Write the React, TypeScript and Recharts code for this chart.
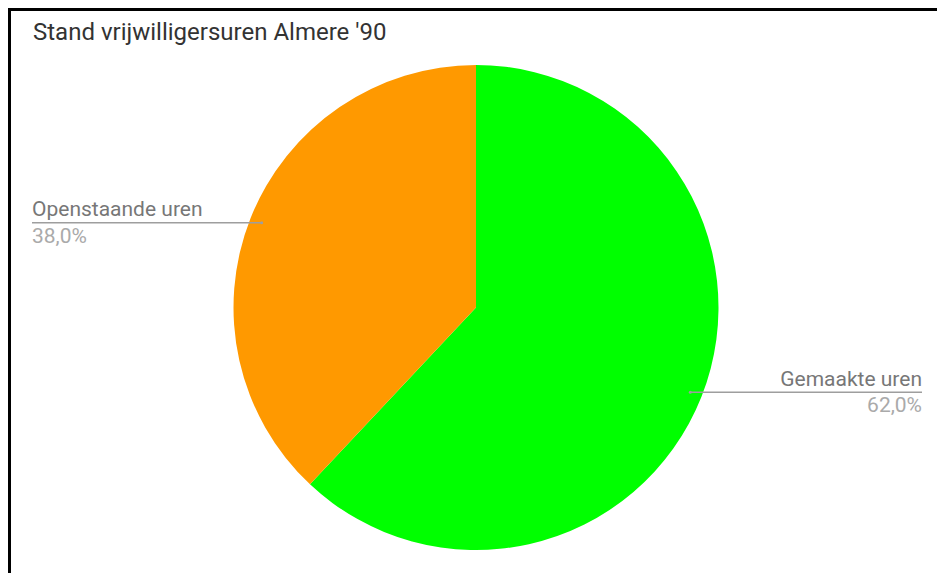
import React from "react";
import { PieChart, Pie, Cell } from "recharts";

const title = "Stand vrijwilligersuren Almere '90";
const categories = ["Gemaakte uren", "Openstaande uren"];
const values = [62, 38];
const colors = ["#00ff00", "#ff9900"];
const percentLabels = ["62,0%", "38,0%"];

const data = categories.map((name, i) => ({ name, value: values[i], pct: percentLabels[i] }));

const CHART_W = 934;
const CHART_H = 562;
const RADIAN = Math.PI / 180;

const renderLabel = (props: any) => {
  const { cx, cy, midAngle, outerRadius, index } = props;
  const r = outerRadius - 12;
  const x = cx + r * Math.cos(-midAngle * RADIAN);
  const y = cy + r * Math.sin(-midAngle * RADIAN);
  const right = Math.cos(-midAngle * RADIAN) >= 0;
  const endX = right ? 911 : 21;
  const anchor = right ? "end" : "start";
  return (
    <g key={`lbl-${index}`}>
      <line x1={x} y1={y} x2={endX} y2={y} stroke="#9e9e9e" strokeWidth={1.5} />
      <circle cx={x} cy={y} r={1.5} fill="#9e9e9e" />
      <text x={endX} y={y - 6.5} textAnchor={anchor} fill="#777777" fontSize={21} fontFamily="Roboto">
        {data[index].name}
      </text>
      <text x={endX} y={y + 20} textAnchor={anchor} fill="#aaaaaa" fontSize={21} fontFamily="Roboto">
        {data[index].pct}
      </text>
    </g>
  );
};

export default function App() {
  return (
    <div
      style={{
        position: "relative",
        width: CHART_W,
        height: CHART_H,
        borderLeft: "3px solid #000",
        borderTop: "3px solid #000",
        background: "#fff",
        overflow: "hidden",
      }}
    >
      <svg width={CHART_W} height={60} style={{ position: "absolute", left: 0, top: 0 }}>
        <text x={22} y={28.5} fontFamily="Roboto" fontSize={24} fill="#333">
          {title}
        </text>
      </svg>
      <PieChart
        width={CHART_W}
        height={CHART_H}
        margin={{ top: 0, right: 0, bottom: 0, left: 0 }}
        style={{ position: "absolute", left: 0, top: 0 }}
      >
        <Pie
          data={data}
          dataKey="value"
          nameKey="name"
          cx={465}
          cy={296.5}
          outerRadius={242.5}
          startAngle={90}
          endAngle={-270}
          stroke="none"
          isAnimationActive={false}
          labelLine={false}
          label={renderLabel}
        >
          {data.map((d, i) => (
            <Cell key={d.name} fill={colors[i]} />
          ))}
        </Pie>
      </PieChart>
    </div>
  );
}
